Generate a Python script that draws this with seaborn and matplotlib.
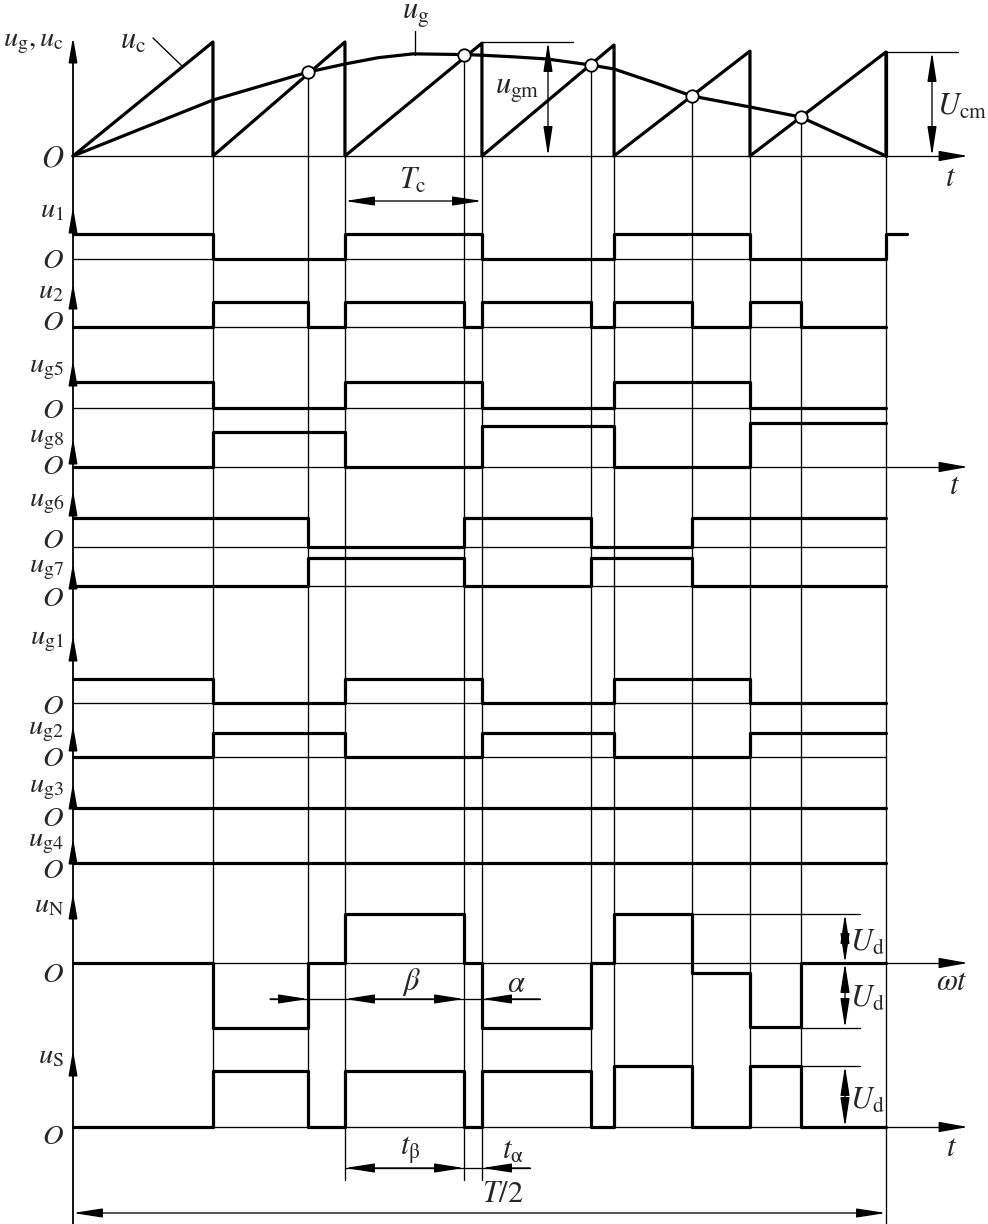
import matplotlib
matplotlib.use("Agg")
import matplotlib.pyplot as plt
import seaborn as sns

sns.set_theme(style="white")
plt.rcParams['font.family'] = ['DejaVu Serif', 'DejaVu Sans']
plt.rcParams['mathtext.fontset'] = 'stix'

# ---------------- data (time in units of the carrier period Tc, 0 .. T/2) ----------------
carrier_resets = [0.0, 1.033, 2.007, 3.018, 3.993, 4.996, 6.0]
carrier_peaks = [1.0, 1.0, 0.99, 0.974, 0.92, 0.912]          # in units of U_cm
ug_t = [0.0, 0.517, 1.033, 1.738, 2.007, 2.25, 2.509, 2.886, 3.018, 3.25, 3.498, 3.823, 3.993, 4.3, 4.568, 4.996, 5.37, 6.0]
ug_v = [0.0, 0.246, 0.491, 0.737, 0.807, 0.862, 0.896, 0.890, 0.884, 0.870, 0.851, 0.798, 0.763, 0.64, 0.526, 0.430, 0.342, 0.0]
crossings = [1.738, 2.886, 3.823, 4.568, 5.37]
crossing_v = [0.737, 0.886, 0.798, 0.526, 0.342]

edges_c = [0.0, 1.033, 2.007, 3.018, 3.993, 4.996, 6.0]
edges_x = [0.0, 1.033, 1.738, 2.007, 2.886, 3.018, 3.823, 3.993, 4.568, 4.996, 5.37, 6.0]
edges_g = [0.0, 1.738, 2.886, 3.823, 4.568, 6.0]

u1_t = [0.0, 1.033, 2.007, 3.018, 3.993, 4.996, 6.0, 6.155]
u1_v = [1, 0, 1, 0, 1, 0, 1, 1]
u2_v = [0, 1, 0, 1, 0, 1, 0, 1, 0, 1, 0, 0]
ug5_v = [1, 0, 1, 0, 1, 0, 0]
ug8_v = [0, 1, 0, 1.17, 0, 1.27, 1.27]
ug6_v = [1, 0, 1, 0, 1, 1]
ug7_v = [0, 1, 0, 1, 0, 0]
ug1_v = [1, 0, 1, 0, 1, 0, 0]
ug2_v = [0, 1, 0, 1, 0, 1, 1]
ug3_t = [0.0, 6.0]
ug3_v = [0, 0]
ug4_v = [0, 0]
uN_v = [0, -1.33, 0, 1, 0, -1.33, 0, 1, -0.2, -1.31, 0, 0]
uS_v = [0, 1, 0, 1, 0, 1, 0, 1.09, 0, 1.09, 0, 0]

row_labels = [r'$u_{\mathrm{1}}$', r'$u_{\mathrm{2}}$', r'$u_{\mathrm{g5}}$', r'$u_{\mathrm{g8}}$',
              r'$u_{\mathrm{g6}}$', r'$u_{\mathrm{g7}}$', r'$u_{\mathrm{g1}}$', r'$u_{\mathrm{g2}}$',
              r'$u_{\mathrm{g3}}$', r'$u_{\mathrm{g4}}$', r'$u_{\mathrm{N}}$', r'$u_{\mathrm{S}}$']
row_t = [u1_t, edges_x, edges_c, edges_c, edges_g, edges_g, edges_c, edges_c, ug3_t, ug3_t, edges_x, edges_x]
row_v = [u1_v, u2_v, ug5_v, ug8_v, ug6_v, ug7_v, ug1_v, ug2_v, ug3_v, ug4_v, uN_v, uS_v]

# ---------------- layout (pixel rows of the 988x1224 canvas) ----------------
row_base = [259, 327, 408, 467, 547, 586, 703, 757, 808, 863, 963, 1127]
row_scale = [25, 25, 26, 35, 29, 28, 24, 24, 1, 1, 49, 56]
row_label_y = [210, 291, 368, 439, 503, 569, 640, 731, 789, 843, 905, 1056]
row_O_y = [260, 323, 411, 466, 540, 599, 706, 759, 818, 870, 975, 1136]
row_tip_y = [207, 283, 360, 438, 490, 563, 635, 725, 783, 838, 893, 1050]
TOP_BASE, TOP_SCALE = 156, 114

X0, PX_PER_TC = 73, 135.5
def tx(px):
    return (px - X0) / PX_PER_TC

THICK = 2.3
THIN = 0.95
BIG = 22
LEFT = 20.5
K = 'black'

fig = plt.figure(figsize=(9.88, 12.24), dpi=100)
ax = fig.add_axes([0, 0, 1, 1])

# ---------------- top panel: carrier and modulating wave ----------------
cx, cy = [], []
for k in range(len(carrier_peaks)):
    cx += [carrier_resets[k], carrier_resets[k + 1], carrier_resets[k + 1]]
    cy += [0, carrier_peaks[k], 0]
sns.lineplot(x=cx, y=[TOP_BASE - v * TOP_SCALE for v in cy], sort=False, estimator=None,
             color=K, lw=THICK, ax=ax)
sns.lineplot(x=ug_t, y=[TOP_BASE - v * TOP_SCALE for v in ug_v], sort=False, estimator=None,
             color=K, lw=THICK, ax=ax)

# vertical thin lines (carrier resets and crossings)
reset_bottom = [1127, 1180, 1180, 1127, 1127, 1224]
for t, b in zip(carrier_resets[1:], reset_bottom):
    ax.plot([t, t], [TOP_BASE, b], color=K, lw=THIN)
ax.plot([6.0, 6.0], [TOP_BASE - carrier_peaks[-1] * TOP_SCALE, TOP_BASE], color=K, lw=THICK)
cross_bottom = [1127, 1180, 1127, 1127, 1127]
for t, v, b in zip(crossings, crossing_v, cross_bottom):
    ax.plot([t, t], [TOP_BASE - v * TOP_SCALE, b], color=K, lw=THIN)

sns.scatterplot(x=crossings, y=[TOP_BASE - v * TOP_SCALE for v in crossing_v], s=80,
                color='white', edgecolor=K, linewidth=1.3, zorder=6, ax=ax)

# ---------------- pulse rows ----------------
for t, v, base, sc in zip(row_t, row_v, row_base, row_scale):
    sns.lineplot(x=t, y=[base - s * sc for s in v], sort=False, estimator=None,
                 drawstyle='steps-post', color=K, lw=THICK, ax=ax)

# baselines
arrow_axes = [TOP_BASE, 467, 963, 1127]
for i, base in enumerate(row_base):
    if base in arrow_axes:
        continue
    ax.plot([0, 6.0], [base, base], color=K, lw=THIN)
for base in arrow_axes:
    ax.plot([0, tx(950)], [base, base], color=K, lw=THIN)
    ax.annotate('', xy=(tx(968), base), xytext=(tx(940), base),
                arrowprops=dict(arrowstyle='-|>,head_length=0.9,head_width=0.16', lw=THIN,
                                color=K, shrinkA=0, shrinkB=0, mutation_scale=20))

# vertical axis with arrows
ax.plot([0, 0], [48, 1224], color=K, lw=1.3)
for tip in [37] + row_tip_y:
    ax.annotate('', xy=(0, tip), xytext=(0, tip + 14),
                arrowprops=dict(arrowstyle='-|>,head_length=0.75,head_width=0.13', lw=1.2,
                                color=K, shrinkA=0, shrinkB=0, mutation_scale=20))

# left labels
ax.text(tx(64), 42, r'$u_{\mathrm{g}},u_{\mathrm{c}}$', ha='right', va='center', fontsize=LEFT)
ax.text(tx(64), 158, r'$O$', ha='right', va='center', fontsize=BIG)
for lab, ly, oy in zip(row_labels, row_label_y, row_O_y):
    ax.text(tx(64), ly, lab, ha='right', va='center', fontsize=LEFT)
    ax.text(tx(64), oy, r'$O$', ha='right', va='center', fontsize=LEFT)

# ---------------- annotations ----------------
def darrow(x1, y1, x2, y2, style='<|-|>'):
    ax.annotate('', xy=(tx(x2), y2), xytext=(tx(x1), y1),
                arrowprops=dict(arrowstyle=style + ',head_length=0.9,head_width=0.14', lw=THIN,
                                color=K, shrinkA=0, shrinkB=0, mutation_scale=20))

def line(x1, y1, x2, y2):
    ax.plot([tx(x1), tx(x2)], [y1, y2], color=K, lw=THIN)

# top labels
ax.text(tx(133), 40, r'$u_{\mathrm{c}}$', ha='center', va='center', fontsize=BIG)
line(153, 38, 182, 66)
ax.text(tx(416), 15, r'$u_{\mathrm{g}}$', ha='center', va='center', fontsize=BIG)
line(415, 31, 415, 55)
ax.text(tx(517), 90, r'$u_{\mathrm{gm}}$', ha='center', va='center', fontsize=BIG)
line(482, 42, 573, 42)
darrow(548, 42, 548, 156)
ax.text(tx(962), 106, r'$U_{\mathrm{cm}}$', ha='center', va='center', fontsize=BIG)
line(886, 52, 958, 52)
darrow(932, 52, 932, 156)
ax.text(tx(951), 177, r'$t$', ha='center', va='center', fontsize=BIG)
ax.text(tx(413), 180, r'$T_{\mathrm{c}}$', ha='center', va='center', fontsize=BIG)
darrow(345, 201, 482, 201)
ax.text(tx(955), 485, r'$t$', ha='center', va='center', fontsize=BIG)

# u_N / u_S dimensions
line(270, 999, 540, 999)
darrow(270, 999, 308, 999, '-|>')
darrow(345, 999, 464, 999)
darrow(540, 999, 482, 999, '-|>')
ax.text(tx(411), 982, r'$\beta$', ha='center', va='center', fontsize=BIG)
ax.text(tx(516), 984, r'$\alpha$', ha='center', va='center', fontsize=BIG)
ax.text(tx(952), 981, r'$\omega t$', ha='center', va='center', fontsize=BIG)
ax.text(tx(952), 1147, r'$t$', ha='center', va='center', fontsize=BIG)

line(692, 914, 860, 914)
line(800, 1028, 860, 1028)
line(800, 1066, 860, 1066)
darrow(845, 914, 845, 963)
darrow(845, 963, 845, 1028)
darrow(845, 1066, 845, 1127)
ax.text(tx(867), 942, r'$U_{\mathrm{d}}$', ha='center', va='center', fontsize=BIG)
ax.text(tx(867), 998, r'$U_{\mathrm{d}}$', ha='center', va='center', fontsize=BIG)
ax.text(tx(867), 1100, r'$U_{\mathrm{d}}$', ha='center', va='center', fontsize=BIG)

line(345, 1168, 530, 1168)
darrow(345, 1168, 464, 1168)
darrow(530, 1168, 482, 1168, '-|>')
ax.text(tx(410), 1150, r'$t_{\mathrm{\beta}}$', ha='center', va='center', fontsize=BIG)
ax.text(tx(513), 1150, r'$t_{\mathrm{\alpha}}$', ha='center', va='center', fontsize=BIG)
ax.text(tx(503), 1194, r'$T/2$', ha='center', va='center', fontsize=BIG)
darrow(73, 1213, 886, 1213)

ax.set_xlim(tx(0), tx(988))
ax.set_ylim(1224, 0)
ax.axis('off')
fig.savefig('out.png', dpi=100, facecolor='white')
